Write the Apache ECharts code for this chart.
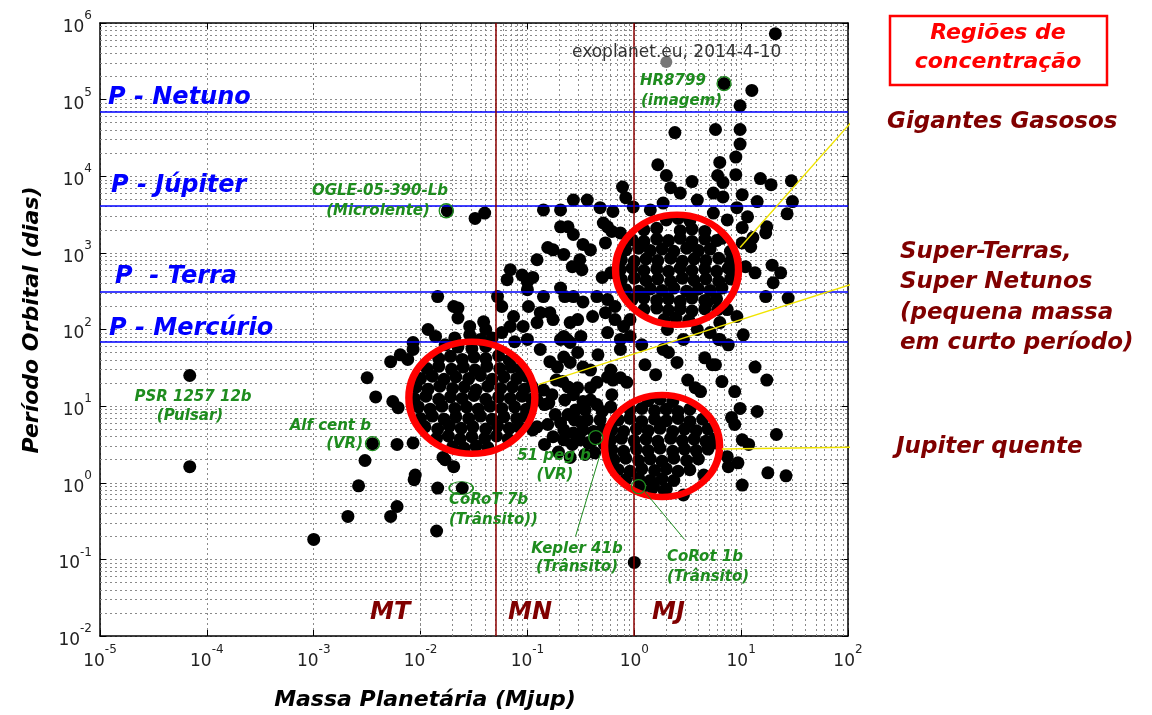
<!DOCTYPE html>
<html><head><meta charset="utf-8">
<script src="https://cdn.jsdelivr.net/npm/echarts@6/dist/echarts.min.js"></script>
<style>html,body{margin:0;padding:0;background:#fff}#c{width:1152px;height:715px}</style>
</head><body><div id="c"></div>
<script>
// ---- DATA: [log10(mass in Mjup), log10(period in days)] ----
const upperScatter = [
[1.32,5.86],[0.84,5.21],[1.10,5.12],[0.99,4.92],[0.76,4.61],[0.99,4.61],[0.99,4.42],[0.38,4.57],[0.95,4.25],[0.80,4.18],[0.22,4.15],[0.30,4.01],[0.95,4.02],[0.78,4.01],[0.83,3.92],[1.18,3.97],[1.28,3.89],[1.47,3.94],[1.48,3.67],[1.43,3.51],[1.01,3.76],[1.15,3.67],[0.74,3.78],[0.83,3.73],[0.96,3.59],[1.06,3.47],[1.01,3.33],[1.24,3.34],[1.23,3.26],[1.11,3.20],[1.09,3.08],[1.01,3.13],[1.29,2.84],[1.37,2.74],[1.30,2.61],[1.23,2.43],[1.44,2.41],[1.13,2.74],[1.04,2.82],[0.96,2.17],[1.02,1.93],[0.88,1.80],[0.79,1.87],[0.80,2.09],[0.87,2.26],[0.34,3.85],[0.43,3.78],[0.54,3.93],[-0.11,3.86],[-0.08,3.72],[-0.57,3.69],[-0.44,3.69],[-0.32,3.59],[-0.20,3.54],[-0.85,3.56],[-0.69,3.56],[-0.69,3.34],[-0.62,3.34],[-0.57,3.24],[-1.49,3.45],[-1.40,3.52],[-1.75,3.55],[-0.25,3.34],[-0.13,3.26],[-0.01,3.60],[0.15,3.56],[0.27,3.65],[0.59,3.69],[0.74,3.52],[0.87,3.43],[-0.81,3.07],[-0.76,3.04],[-0.29,3.39],[-0.21,3.28],[-0.27,3.13],[-0.66,2.98],[-0.48,3.11],[-0.41,3.04],[-0.51,2.91],[-0.91,2.91],[-0.58,2.82],[-0.49,2.78],[-0.95,2.68],[-0.30,2.68],[-0.22,2.74],[-0.69,2.54],[-0.65,2.43],[-0.57,2.43],[-0.85,2.43],[-0.48,2.36],[-0.35,2.43],[-0.25,2.39],[-0.18,2.30],[-0.88,2.22],[-0.79,2.22],[-0.76,2.13],[-0.91,2.09],[-0.60,2.09],[-0.53,2.13],[-0.39,2.17],[-0.27,2.22],[-0.18,2.13],[-0.10,2.04],[-0.04,2.13],[-0.66,1.91],[-0.60,1.83],[-0.25,1.96],[-0.13,1.87],[-0.04,1.91],[0.31,2.00],[0.46,1.87],[0.59,2.00],[0.71,1.96],[0.80,1.87],[0.68,2.35],[0.78,2.26]
];
const fadedPoints = [[0.30,5.49]];
const superEarthEdge = [
[-1.16,2.78],[-1.05,2.71],[-1.00,2.62],[-0.99,2.30],[-1.28,2.43],[-1.84,2.43],[-1.69,2.30],[-1.65,2.28],[-1.65,2.15],[-1.54,2.04],[-1.41,2.10],[-1.39,2.00],[-1.24,2.30],[-1.13,2.17],[-1.16,2.04],[-1.93,2.00],[-1.86,1.91],[-1.33,1.89],[-1.24,1.96],[-1.04,2.04],[-1.00,1.87],[-2.07,1.83],[-1.00,2.52],[-1.19,2.65],[-1.68,1.89],[-1.54,1.93],[-1.44,1.87],[-1.77,1.80],[-1.12,1.84]
];
const leftScatter = [
[-2.28,1.58],[-2.19,1.67],[-2.12,1.61],[-2.07,1.74],[-2.50,1.37],[-2.42,1.12],[-2.26,1.06],[-2.21,0.98],[-2.45,0.51],[-2.22,0.50],[-2.52,0.29],[-2.05,0.10],[-2.58,-0.04],[-1.84,-0.07],[-1.61,-0.07],[-1.77,0.30],[-1.69,0.21],[-2.22,-0.31],[-2.28,-0.44],[-2.68,-0.44],[-3.00,-0.74],[-1.85,-0.63],[-4.16,1.40],[-4.16,0.21],[-2.07,0.52],[-1.79,0.33],[-2.06,0.04]
];
const hotJupiterEdge = [
[0.00,-1.04],[0.05,-0.04],[0.18,-0.04],[0.30,-0.08],[0.46,-0.16],[1.01,-0.03],[1.25,0.13],[1.42,0.09],[0.66,1.63],[0.76,1.54],[0.82,1.32],[1.13,1.51],[1.24,1.34],[0.94,1.19],[0.99,0.97],[1.15,0.93],[0.91,0.85],[0.94,0.76],[1.33,0.63],[1.01,0.56],[1.07,0.50],[0.76,0.52],[0.87,0.34],[0.88,0.21],[0.97,0.26],[0.62,1.19],[0.65,0.10]
];
const middleBand = [
[-0.88,1.74],[-0.79,1.58],[-0.72,1.51],[-0.66,1.64],[-0.60,1.57],[-0.53,1.70],[-0.48,1.51],[-0.41,1.47],[-0.69,1.87],[-0.13,1.74],[-0.34,1.67],[0.07,1.80],[0.27,1.74],[0.32,1.70],[0.40,1.57],[0.73,1.54],[0.50,1.34],[0.57,1.24],[-0.25,1.38],[-0.20,1.34],[-0.13,1.37],[-0.07,1.31],[-0.67,1.32],[-0.62,1.25],[-0.57,1.15],[-0.41,1.24],[-0.35,1.31],[-0.48,1.06],[-0.41,1.08],[-0.35,1.02],[-0.30,0.93],[-0.22,0.99],[-0.80,1.04],[-0.74,0.89],[-0.69,0.78],[-0.62,0.89],[-0.55,0.95],[-0.51,0.80],[-0.44,0.82],[-0.66,0.69],[-0.57,0.65],[-0.48,0.69],[-0.38,0.67],[-0.30,0.69],[-0.76,0.60],[-0.66,0.56],[-0.58,0.50],[-0.51,0.56],[-0.43,0.52],[-0.37,0.59],[-0.95,0.69],[-0.91,0.73],[-0.37,0.39],[-0.91,1.08],[-0.85,1.21],[-0.63,1.87],[-0.50,1.91],[-0.22,1.47],[0.10,1.54],[0.20,1.41],
[-0.84,1.02],[-0.77,1.15],[-0.65,1.08],[-0.53,1.24],[-0.46,0.95],[-0.32,0.82],[-0.25,0.69],[-0.84,0.50],[-0.71,0.40],[-0.60,0.33],[-0.46,0.37],[-0.56,0.82],[-0.40,0.54],[-0.81,0.76],[-0.28,0.50],[-0.21,1.15],[-0.73,1.34]
];
const superEarthCore = [
[-1.65,1.77],[-1.52,1.75],[-1.39,1.78],
[-1.83,1.62],[-1.72,1.65],[-1.61,1.61],[-1.50,1.64],[-1.39,1.62],[-1.27,1.66],[-1.17,1.60],
[-1.94,1.49],[-1.83,1.52],[-1.71,1.48],[-1.60,1.51],[-1.49,1.47],[-1.38,1.52],[-1.26,1.49],[-1.15,1.51],[-1.06,1.48],
[-2.00,1.36],[-1.89,1.39],[-1.78,1.35],[-1.67,1.38],[-1.55,1.36],[-1.44,1.40],[-1.33,1.35],[-1.22,1.38],[-1.10,1.36],[-1.01,1.39],
[-2.04,1.25],[-1.93,1.22],[-1.82,1.26],[-1.70,1.23],[-1.59,1.25],[-1.48,1.21],[-1.37,1.26],[-1.25,1.23],[-1.14,1.25],[-1.03,1.22],[-0.96,1.26],
[-2.06,1.10],[-1.95,1.13],[-1.83,1.09],[-1.72,1.12],[-1.61,1.10],[-1.50,1.14],[-1.39,1.09],[-1.27,1.12],[-1.16,1.10],[-1.05,1.13],[-0.96,1.09],
[-2.02,0.99],[-1.91,0.96],[-1.80,1.00],[-1.68,0.97],[-1.57,0.99],[-1.46,0.96],[-1.35,1.00],[-1.24,0.97],[-1.12,0.99],[-1.01,0.96],
[-2.00,0.84],[-1.89,0.87],[-1.78,0.83],[-1.67,0.86],[-1.55,0.84],[-1.44,0.87],[-1.33,0.83],[-1.22,0.86],[-1.10,0.84],[-1.02,0.87],
[-1.96,0.73],[-1.84,0.70],[-1.73,0.74],[-1.62,0.71],[-1.51,0.73],[-1.39,0.70],[-1.28,0.74],[-1.17,0.71],[-1.08,0.73],
[-1.85,0.58],[-1.74,0.61],[-1.63,0.57],[-1.52,0.60],[-1.40,0.58],[-1.29,0.61],[-1.18,0.57],
[-1.70,0.47],[-1.59,0.45],[-1.48,0.48],[-1.37,0.46]
];
const hotJupiterCore = [
[0.13,1.07],[0.24,1.09],[0.36,1.06],
[-0.04,0.95],[0.07,0.97],[0.19,0.94],[0.30,0.96],[0.41,0.93],[0.52,0.96],
[-0.15,0.82],[-0.04,0.84],[0.07,0.80],[0.19,0.83],[0.30,0.81],[0.41,0.84],[0.52,0.80],[0.64,0.83],
[-0.21,0.69],[-0.10,0.67],[0.02,0.70],[0.13,0.68],[0.24,0.71],[0.36,0.67],[0.47,0.70],[0.58,0.68],[0.69,0.70],
[-0.22,0.56],[-0.12,0.58],[0.00,0.55],[0.11,0.57],[0.22,0.54],[0.34,0.58],[0.45,0.55],[0.56,0.57],[0.67,0.54],[0.75,0.57],
[-0.21,0.43],[-0.10,0.41],[0.02,0.44],[0.13,0.42],[0.24,0.45],[0.36,0.41],[0.47,0.44],[0.58,0.42],[0.69,0.44],
[-0.19,0.30],[-0.08,0.32],[0.04,0.29],[0.15,0.31],[0.26,0.28],[0.37,0.32],[0.49,0.29],[0.60,0.31],
[-0.15,0.17],[-0.04,0.15],[0.07,0.18],[0.19,0.16],[0.30,0.18],[0.41,0.15],[0.52,0.17],
[-0.08,0.04],[0.04,0.06],[0.15,0.03],[0.26,0.05],[0.37,0.03],
[0.06,-0.09],[0.17,-0.07],[0.28,-0.10]
];
const giantCore = [
[0.30,3.43],[0.41,3.45],[0.52,3.42],
[0.09,3.30],[0.21,3.32],[0.43,3.29],[0.54,3.31],[0.66,3.28],
[-0.02,3.17],[0.09,3.15],[0.21,3.18],[0.32,3.16],[0.43,3.19],[0.54,3.15],[0.66,3.18],[0.77,3.16],[0.82,3.19],
[-0.08,3.04],[0.04,3.06],[0.15,3.03],[0.26,3.05],[0.37,3.02],[0.49,3.06],[0.60,3.03],[0.71,3.05],[0.90,3.02],
[-0.12,2.91],[0.00,2.89],[0.11,2.92],[0.22,2.90],[0.34,2.93],[0.45,2.89],[0.56,2.92],[0.67,2.90],[0.79,2.93],[0.90,2.89],
[-0.13,2.78],[-0.02,2.80],[0.09,2.77],[0.21,2.79],[0.32,2.76],[0.43,2.80],[0.54,2.77],[0.66,2.79],[0.77,2.76],[0.88,2.80],[0.94,2.77],
[-0.12,2.65],[0.00,2.67],[0.11,2.64],[0.22,2.66],[0.34,2.63],[0.45,2.67],[0.56,2.64],[0.67,2.66],[0.79,2.63],[0.90,2.66],
[-0.08,2.52],[0.04,2.50],[0.15,2.53],[0.26,2.51],[0.37,2.54],[0.49,2.50],[0.60,2.53],[0.71,2.51],[0.82,2.54],
[-0.02,2.39],[0.09,2.41],[0.21,2.38],[0.32,2.40],[0.43,2.37],[0.54,2.41],[0.66,2.38],[0.77,2.40],
[0.09,2.26],[0.21,2.28],[0.32,2.25],[0.43,2.27],[0.54,2.24],[0.66,2.27],
[0.28,2.13],[0.39,2.15],[0.51,2.12]
];
// highlighted planets (log10 mass, log10 period)
const highlightNames = ['HR8799','OGLE-05-390-Lb','Alf cent b','51 peg b','CoRoT 7b','CoRot 1b'];
const highlightLog = [[0.84,5.21],[-1.76,3.55],[-2.45,0.51],[-0.36,0.59],[-1.62,-0.07],[0.04,-0.05]];
// concentration-region centres (log10 mass, log10 period)
const regionNames = ['Gigantes Gasosos','Super-Terras','Jupiter quente'];
const regionCentersLog = [[0.40,2.78],[-1.52,1.11],[0.26,0.48]];
// reference periods (days) and masses (Mjup)
const periodNames = ['P - Netuno','P - Júpiter','P  - Terra','P - Mercúrio'];
const periodValues = [69000, 4100, 315, 69];
const massNames = ['MT','MN','MJ'];
const massValues = [0.00283, 0.0508, 0.98];
// annotation leader lines (log10 mass, log10 period)
const leaderGiants = [[0.99,3.07],[2.09,4.80]];
const leaderSuper = [[-0.90,1.28],[2.32,2.72]];
const leaderHot = [[0.82,0.44],[2.34,0.47]];
const leaderKepler = [[-0.32,0.37],[-0.55,-0.70]];
const leaderCorot1 = [[0.10,-0.12],[0.47,-0.74]];
// axis decades
const xDecades = [-5,-4,-3,-2,-1,0,1];
const yDecades = [-2,-1,0,1,2,3,4,5];
const minorMult = [2,3,4,5,6,7,8,9];

// ---- build ----
const toVal = p => [Math.pow(10,p[0]), Math.pow(10,p[1])];
const allPoints = [].concat(upperScatter, superEarthEdge, leftScatter, hotJupiterEdge, middleBand, superEarthCore, hotJupiterCore, giantCore).map(toVal);
const ringSizes = [[123,110],[126,112],[115,102]];
const highlightSizes = [[14,14],[14,14],[14,14],[14,14],[24,13],[14,14]];

const gridColor = '#8a8a8a';
const minorLines = [];
xDecades.forEach(d => minorMult.forEach(m => minorLines.push({xAxis: m*Math.pow(10,d)})));
yDecades.forEach(d => minorMult.forEach(m => minorLines.push({yAxis: m*Math.pow(10,d)})));

const refLines = [];
periodValues.forEach(v => refLines.push({yAxis: v, lineStyle:{color:'#0000ff', width:1.5, type:'solid', opacity:1}}));
massValues.forEach(v => refLines.push({xAxis: v, lineStyle:{color:'#8b0000', width:1.5, type:'solid', opacity:1}}));

const FONT = '"DejaVu Sans"';
const labelFmt = v => '{b|10}{s|' + Math.round(Math.log10(v)) + '}';
const labelRich = {
  b: {fontSize:17, fontFamily:FONT, color:'#222', lineHeight:26, verticalAlign:'bottom'},
  s: {fontSize:12, fontFamily:FONT, color:'#222', lineHeight:12, verticalAlign:'top'}
};

function lineSeries(pts, color, width, z){
  return {type:'line', data: pts.map(toVal), symbol:'none', clip:false, silent:true, z:z,
    lineStyle:{color:color, width:width, type:'solid', opacity:1}, emphasis:{disabled:true}, animation:false};
}

const bi = (size) => 'italic bold ' + size + 'px ' + FONT;
function txt(x, y, text, font, fill, align, extra){
  return Object.assign({type:'text', x:x, y:y, z:100, silent:true,
    style:{text:text, font:font, fill:fill, textAlign:align||'left', textVerticalAlign:'middle'}}, extra||{});
}
const green = '#1e8c1e', darkRed = '#800000';

const graphics = [
  txt(572, 53, 'exoplanet.eu, 2014-4-10', 'normal 17px ' + FONT, '#333'),
  txt(108, 98, periodNames[0], bi(24), '#0000ff'),
  txt(111, 186, periodNames[1], bi(24), '#0000ff'),
  txt(115, 277, periodNames[2], bi(24), '#0000ff'),
  txt(109, 329, periodNames[3], bi(24), '#0000ff'),
  txt(640, 81, 'HR8799', bi(15), green),
  txt(641, 101, '(imagem)', bi(15), green),
  txt(380, 191, 'OGLE-05-390-Lb', bi(15), green, 'center'),
  txt(378, 211, '(Microlente)', bi(15), green, 'center'),
  txt(193, 397, 'PSR 1257 12b', bi(15), green, 'center'),
  txt(190, 416, '(Pulsar)', bi(15), green, 'center'),
  txt(371, 426, 'Alf cent b', bi(15), green, 'right'),
  txt(363, 444, '(VR)', bi(15), green, 'right'),
  txt(554, 456, '51 peg b', bi(15), green, 'center'),
  txt(555, 475, '(VR)', bi(15), green, 'center'),
  txt(449, 500, 'CoRoT 7b', bi(15), green),
  txt(449, 520, '(Trânsito))', bi(15), green),
  txt(577, 549, 'Kepler 41b', bi(15), green, 'center'),
  txt(577, 567, '(Trânsito)', bi(15), green, 'center'),
  txt(667, 557, 'CoRot 1b', bi(15), green),
  txt(667, 577, '(Trânsito)', bi(15), green),
  txt(370, 613, massNames[0], bi(24), darkRed),
  txt(508, 613, massNames[1], bi(24), darkRed),
  txt(652, 613, massNames[2], bi(24), darkRed),
  txt(425, 700, 'Massa Planetária (Mjup)', bi(22), '#000', 'center'),
  txt(32, 320, 'Período Orbital (dias)', bi(22), '#000', 'center', {rotation: Math.PI/2}),
  {type:'rect', z:100, silent:true, shape:{x:890, y:16, width:217, height:69}, style:{fill:'none', stroke:'#ff0000', lineWidth:2.5}},
  txt(998, 33, 'Regiões de', bi(22), '#ff0000', 'center'),
  txt(998, 62, 'concentração', bi(22), '#ff0000', 'center'),
  txt(887, 122, regionNames[0], bi(23), darkRed),
  txt(900, 252, 'Super-Terras,', bi(23), darkRed),
  txt(900, 282, 'Super Netunos', bi(23), darkRed),
  txt(900, 313, '(pequena massa', bi(23), darkRed),
  txt(900, 343, 'em curto período)', bi(23), darkRed),
  txt(896, 447, regionNames[2], bi(23), darkRed)
];

const axisCommon = {
  type:'log', logBase:10,
  axisLine:{show:true, onZero:false, lineStyle:{color:'#000', width:1.5}},
  axisTick:{show:true, inside:true, length:6, lineStyle:{color:'#000', width:1}},
  splitLine:{show:false},
  minorTick:{show:false}
};

const option = {
  animation:false,
  backgroundColor:'#fff',
  grid:{left:100, right:304, top:23, bottom:79, containLabel:false, outerBoundsMode:'none'},
  xAxis:[
    Object.assign({}, axisCommon, {position:'bottom', min:1e-5, max:100,
      axisLabel:{formatter:labelFmt, rich:labelRich, margin:8},
      splitLine:{show:true, lineStyle:{color:gridColor, width:1, type:[2,3]}}}),
    Object.assign({}, axisCommon, {position:'top', min:1e-5, max:100, axisLabel:{show:false}})
  ],
  yAxis:[
    Object.assign({}, axisCommon, {position:'left', min:0.01, max:1e6,
      axisLabel:{formatter:labelFmt, rich:labelRich, margin:8},
      splitLine:{show:true, lineStyle:{color:gridColor, width:1, type:[2,3]}}}),
    Object.assign({}, axisCommon, {position:'right', min:0.01, max:1e6, axisLabel:{show:false}})
  ],
  graphic: graphics,
  series:[
    {type:'scatter', name:'grid', data:[[1,1]], symbolSize:0, silent:true, z:1,
      markLine:{z:1, silent:true, symbol:'none', animation:false, label:{show:false},
        lineStyle:{color:gridColor, width:1, type:[2,3], opacity:1}, data:minorLines}},
    {type:'scatter', name:'planets', data:allPoints, symbol:'circle', symbolSize:13, z:2,
      itemStyle:{color:'#000', opacity:1, borderWidth:0, borderColor:'#000'}, emphasis:{disabled:true}, silent:true},
    {type:'scatter', name:'faded', data:fadedPoints.map(toVal), symbol:'circle', symbolSize:12, z:2,
      itemStyle:{color:'#777', opacity:1, borderWidth:0}, emphasis:{disabled:true}, silent:true},
    {type:'scatter', name:'reference', data:[[1,1]], symbolSize:0, silent:true, z:3,
      markLine:{z:3, silent:true, symbol:'none', animation:false, label:{show:false}, data:refLines}},
    {type:'scatter', name:'regions', data:regionCentersLog.map(toVal), symbol:'circle', z:4, silent:true,
      symbolSize:(v,p)=>ringSizes[p.dataIndex],
      itemStyle:{color:'rgba(0,0,0,0)', borderColor:'#ff0000', borderWidth:7, opacity:1}, emphasis:{disabled:true}},
    {type:'scatter', name:'highlight', data:highlightLog.map(toVal), symbol:'circle', z:5, silent:true,
      symbolSize:(v,p)=>highlightSizes[p.dataIndex],
      itemStyle:{color:'rgba(0,0,0,0)', borderColor:'#1e8c1e', borderWidth:1.3, opacity:1}, emphasis:{disabled:true}},
    lineSeries(leaderGiants, '#f0e400', 1.4, 6),
    lineSeries(leaderSuper, '#f0e400', 1.4, 6),
    lineSeries(leaderHot, '#f0e400', 1.4, 6),
    lineSeries(leaderKepler, '#1e8c1e', 1, 6),
    lineSeries(leaderCorot1, '#1e8c1e', 1, 6)
  ]
};
const chart = echarts.init(document.getElementById('c'), null, {renderer:'canvas'});
chart.setOption(option);
</script></body></html>
